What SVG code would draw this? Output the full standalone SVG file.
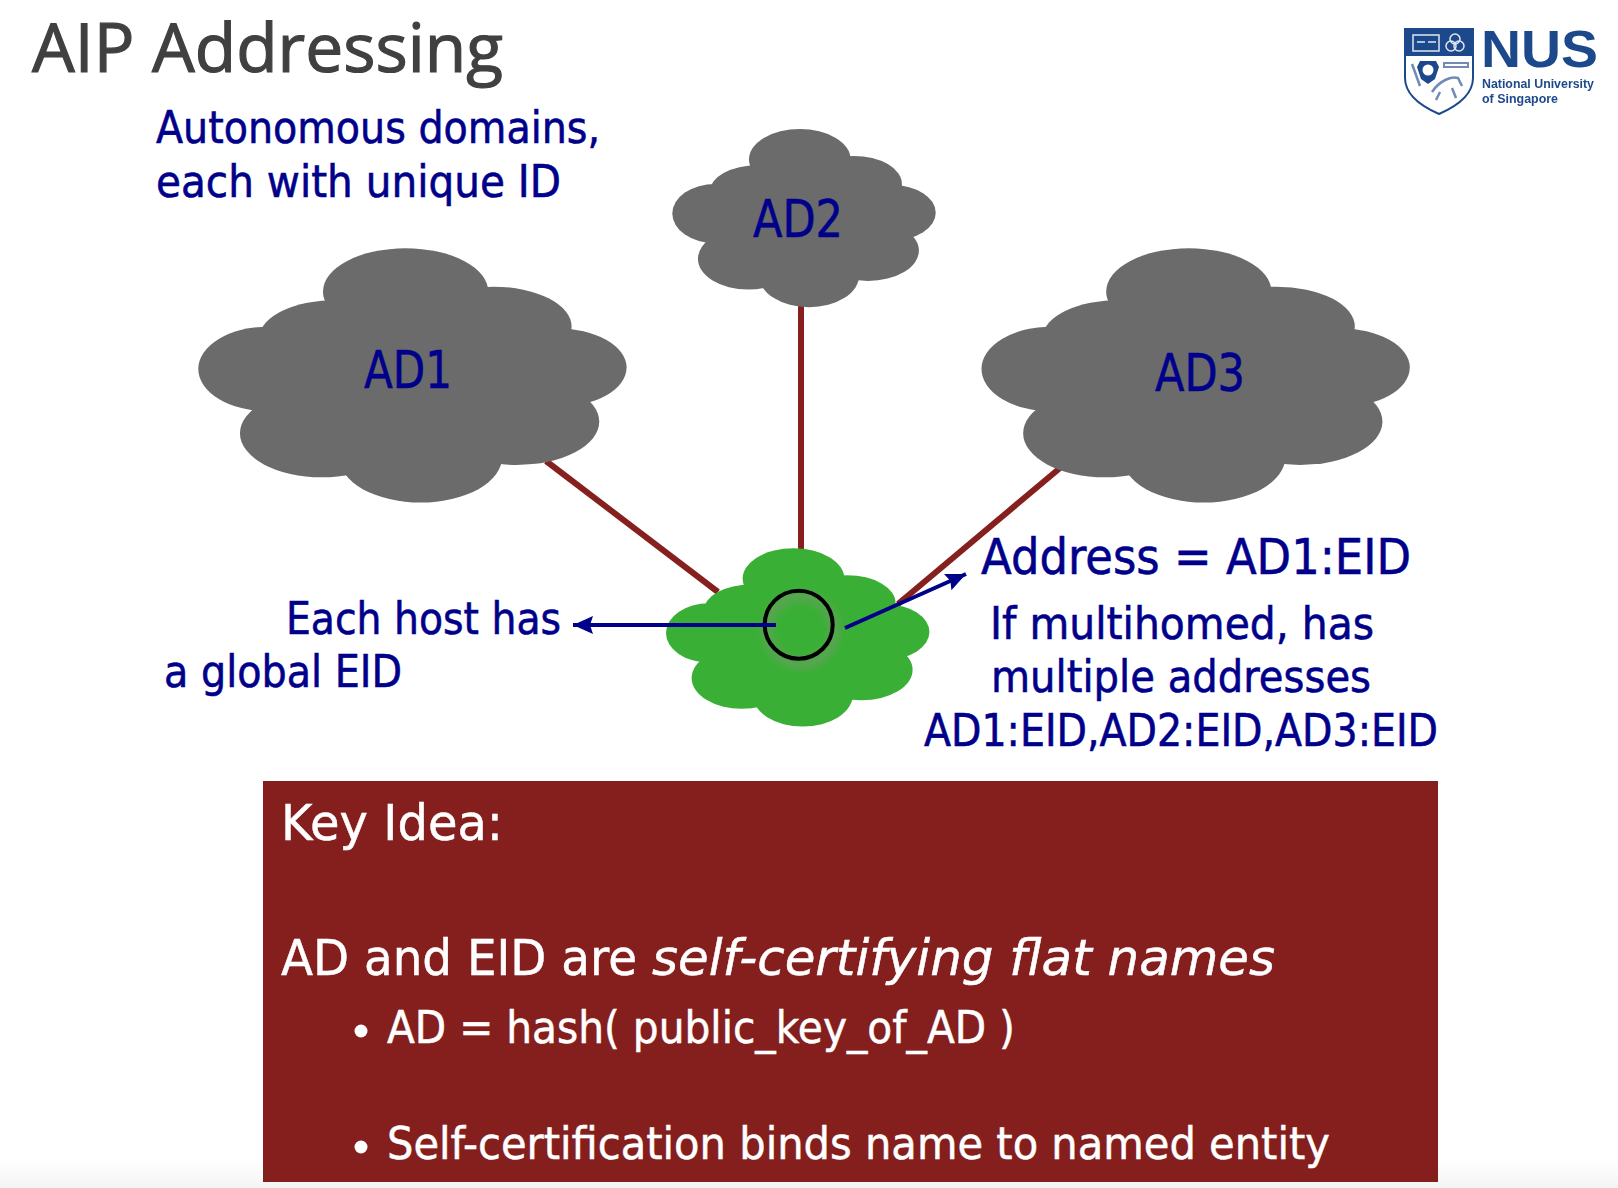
<svg xmlns="http://www.w3.org/2000/svg" width="1618" height="1188" viewBox="0 0 1618 1188">
<style>
.t{font-family:"DejaVu Sans",sans-serif;fill:#00008b;stroke:#00008b;stroke-width:.6}
.k{font-family:"DejaVu Sans",sans-serif;fill:#fff;stroke:#fff;stroke-width:.5}
.conn{stroke:#85201f;stroke-width:6;fill:none}
.arr{stroke:#00008b;stroke-width:4;fill:none}
.logo{fill:#1f4a8c}
.logot{font-family:"Liberation Sans",Arial,sans-serif;fill:#1f4a8c}
</style>
<defs>
<g id="cloud">
<ellipse cx="622" cy="130" rx="248" ry="130"/>
<ellipse cx="885" cy="235" rx="235" ry="120"/>
<ellipse cx="1075" cy="358" rx="210" ry="118"/>
<ellipse cx="955" cy="520" rx="248" ry="130"/>
<ellipse cx="667" cy="625" rx="245" ry="138"/>
<ellipse cx="370" cy="555" rx="245" ry="132"/>
<ellipse cx="210" cy="362" rx="210" ry="127"/>
<ellipse cx="415" cy="265" rx="230" ry="110"/>
<ellipse cx="645" cy="395" rx="450" ry="250"/>
</g>
<marker id="ah" markerUnits="userSpaceOnUse" markerWidth="22" markerHeight="20" refX="20" refY="9" orient="auto"><path d="M0 0L20 9L0 18L3 9Z" fill="#00008b"/></marker>
<radialGradient id="halo"><stop offset="0.5" stop-color="#3aaf35"/><stop offset="0.78" stop-color="#58a551"/><stop offset="1" stop-color="#3aaf35"/></radialGradient>
<linearGradient id="foot" x1="0" y1="0" x2="0" y2="1"><stop offset="0" stop-color="#fff"/><stop offset="1" stop-color="#f4f4f4"/></linearGradient>
<filter id="soft" x="-5%" y="-5%" width="110%" height="110%"><feGaussianBlur stdDeviation="0.6"/></filter>
</defs>
<rect width="1618" height="1188" fill="#fff"/>
<rect y="1160" width="1618" height="28" fill="url(#foot)"/>
<text x="32" y="72" font-size="68" textLength="471" lengthAdjust="spacingAndGlyphs" style="font-family:'Open Sans','Noto Sans',sans-serif;fill:#404040;stroke:#404040;stroke-width:1.2">AIP Addressing</text>
<text class="t" x="156" y="143" font-size="44" textLength="444" lengthAdjust="spacingAndGlyphs">Autonomous domains,</text>
<text class="t" x="156" y="197" font-size="44" textLength="405" lengthAdjust="spacingAndGlyphs">each with unique ID</text>
<g id="connectors">
<line class="conn" x1="546" y1="461" x2="718" y2="592"/>
<line class="conn" x1="801" y1="300" x2="801" y2="552"/>
<line class="conn" x1="1060" y1="468" x2="898" y2="604"/>
</g>
<g id="AD1"><use href="#cloud" transform="translate(198.3 248.3) scale(.3333)" fill="#6b6b6b"/><text class="t" x="364" y="388" font-size="52" textLength="88" lengthAdjust="spacingAndGlyphs">AD1</text></g>
<g id="AD2"><use href="#cloud" transform="translate(672.3 129) scale(.205 .2337)" fill="#6b6b6b"/><text class="t" x="753" y="237" font-size="52" textLength="90" lengthAdjust="spacingAndGlyphs">AD2</text></g>
<g id="AD3"><use href="#cloud" transform="translate(981.5 248.3) scale(.3333)" fill="#6b6b6b"/><text class="t" x="1155" y="391" font-size="52" textLength="90" lengthAdjust="spacingAndGlyphs">AD3</text></g>
<g id="host"><use href="#cloud" transform="translate(666 548.3) scale(.205 .2337)" fill="#3aaf35"/>
<circle cx="801" cy="630" r="44" fill="url(#halo)"/>
<circle cx="798.7" cy="624.7" r="34" fill="none" stroke="#000" stroke-width="4"/></g>
<g id="arrows">
<line class="arr" x1="776" y1="625" x2="573" y2="625" marker-end="url(#ah)"/>
<line class="arr" x1="845" y1="628" x2="966" y2="574" marker-end="url(#ah)"/>
</g>
<text class="t" x="286" y="634" font-size="44" textLength="275" lengthAdjust="spacingAndGlyphs">Each host has</text>
<text class="t" x="164" y="687" font-size="44" textLength="238" lengthAdjust="spacingAndGlyphs">a global EID</text>
<text class="t" x="981" y="574" font-size="50" textLength="430" lengthAdjust="spacingAndGlyphs">Address = AD1:EID</text>
<text class="t" x="990" y="639" font-size="44" textLength="384" lengthAdjust="spacingAndGlyphs">If multihomed, has</text>
<text class="t" x="991" y="692" font-size="44" textLength="380" lengthAdjust="spacingAndGlyphs">multiple addresses</text>
<text class="t" x="924" y="746" font-size="44" textLength="514" lengthAdjust="spacingAndGlyphs">AD1:EID,AD2:EID,AD3:EID</text>
<g id="keybox"><rect x="263" y="781" width="1175" height="401" fill="#851f1e"/>
<text class="k" x="281" y="840" font-size="50" textLength="222" lengthAdjust="spacingAndGlyphs">Key Idea:</text>
<text class="k" x="281" y="975" font-size="50" textLength="356" lengthAdjust="spacingAndGlyphs">AD and EID are</text>
<text class="k" x="652" y="975" font-size="50" font-style="italic" textLength="623" lengthAdjust="spacingAndGlyphs">self-certifying flat names</text>
<circle cx="361" cy="1031" r="6.5" fill="#fff"/>
<text class="k" x="387" y="1043" font-size="44" textLength="628" lengthAdjust="spacingAndGlyphs">AD = hash( public_key_of_AD )</text>
<circle cx="361" cy="1147" r="6.5" fill="#fff"/>
<text class="k" x="387" y="1159" font-size="44" textLength="943" lengthAdjust="spacingAndGlyphs">Self-certification binds name to named entity</text>
</g>
<g id="logo" filter="url(#soft)">
<path d="M1405 29H1473V78C1473 96 1455 107 1439 114C1423 107 1405 96 1405 78Z" fill="#fff" stroke="#1f4a8c" stroke-width="2"/>
<rect class="logo" x="1405" y="29" width="68" height="27"/>
<rect x="1413" y="35" width="26" height="16" fill="none" stroke="#dfe6f0" stroke-width="1.5"/>
<path d="M1417 42h8M1428 42h8" stroke="#dfe6f0" stroke-width="1.5"/>
<circle cx="1455" cy="39" r="5" fill="none" stroke="#dfe6f0" stroke-width="1.5"/><circle cx="1451" cy="46" r="5" fill="none" stroke="#dfe6f0" stroke-width="1.5"/><circle cx="1459" cy="46" r="5" fill="none" stroke="#dfe6f0" stroke-width="1.5"/>
<path d="M1420 61h16l3 6-4 12-7 5-7-5-4-12Z" class="logo"/><circle cx="1428" cy="70" r="5.5" fill="#fff"/>
<path d="M1444 63h24v4h-24Z" fill="none" stroke="#6f8bb5" stroke-width="2"/>
<path d="M1412 64l8 22M1432 92c8-12 20-16 26-14l4 8M1440 92l-4 8M1452 88l4 10" fill="none" stroke="#6f8bb5" stroke-width="2.5"/>
<text class="logot" x="1481" y="67" font-size="52" font-weight="700" textLength="117" lengthAdjust="spacingAndGlyphs">NUS</text>
<text class="logot" x="1482" y="88" font-size="12.5" font-weight="700" textLength="112" lengthAdjust="spacingAndGlyphs">National University</text>
<text class="logot" x="1482" y="103" font-size="12.5" font-weight="700" textLength="76" lengthAdjust="spacingAndGlyphs">of Singapore</text>
</g>
</svg>
